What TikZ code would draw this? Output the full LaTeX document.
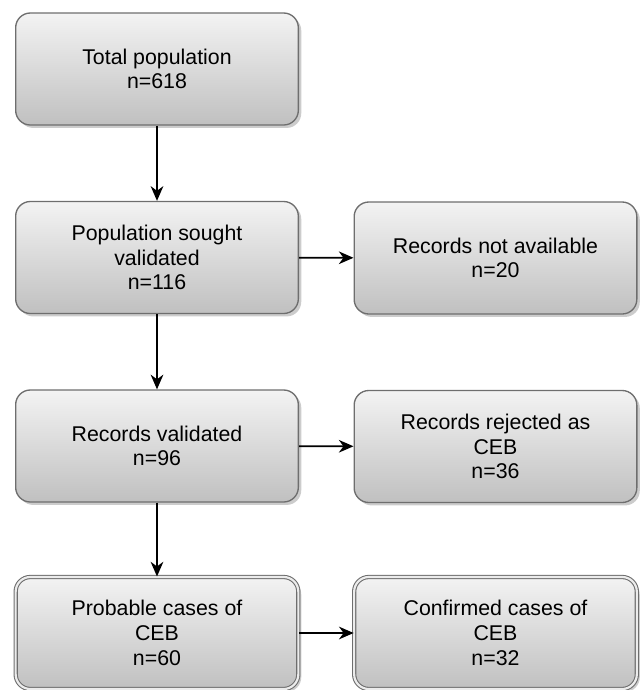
\documentclass[tikz,border=0pt]{standalone}
\usepackage{fontspec}
\setmainfont{Liberation Sans}
\usetikzlibrary{arrows.meta,shadows}

\tikzset{every picture/.style={line width=0.75pt}}
\tikzset{
  flowbox/.style={rectangle, rounded corners=11pt, draw={rgb,255:red,110;green,110;blue,110}, line width=1pt,
    top color={rgb,255:red,243;green,243;blue,243}, bottom color={rgb,255:red,192;green,192;blue,192},
    minimum width=212pt, minimum height=84pt, align=center, inner sep=2pt,
    font=\fontsize{16}{18.5}\selectfont,
    drop shadow={shadow xshift=2.2pt, shadow yshift=-2.2pt, opacity=0.4, fill=gray}},
  finalbox/.style={flowbox, double={rgb,255:red,236;green,236;blue,236}, double distance=1.6pt, line width=0.8pt},
  flowarrow/.style={-{Stealth[length=11pt,width=9.5pt,inset=3.5pt]}, line width=1.2pt, black}
}

\begin{document}
\begin{tikzpicture}[x=0.75pt,y=0.75pt,yscale=-1,xscale=1]
\useasboundingbox (0,0) rectangle (640,690);

% Left column
\node [flowbox] (total) at (157,69) {Total population\\n=618};
\node [flowbox] (sought) at (157,257.5) {Population sought\\validated\\n=116};
\node [flowbox] (validated) at (157,446) {Records validated\\n=96};
\node [finalbox] (probable) at (157,633) {Probable cases of\\CEB\\n=60};

% Right column
\node [flowbox] (notavail) at (495.5,258) {Records not available\\n=20};
\node [flowbox] (rejected) at (495.5,446.5) {Records rejected as\\CEB\\n=36};
\node [finalbox] (confirmed) at (495.5,633) {Confirmed cases of\\CEB\\n=32};

% Arrows
\draw [flowarrow] (total) -- (sought);
\draw [flowarrow] (sought) -- (validated);
\draw [flowarrow] (validated) -- (probable);
\draw [flowarrow] (sought) -- (notavail);
\draw [flowarrow] (validated) -- (rejected);
\draw [flowarrow] (probable) -- (confirmed);

\end{tikzpicture}
\end{document}
